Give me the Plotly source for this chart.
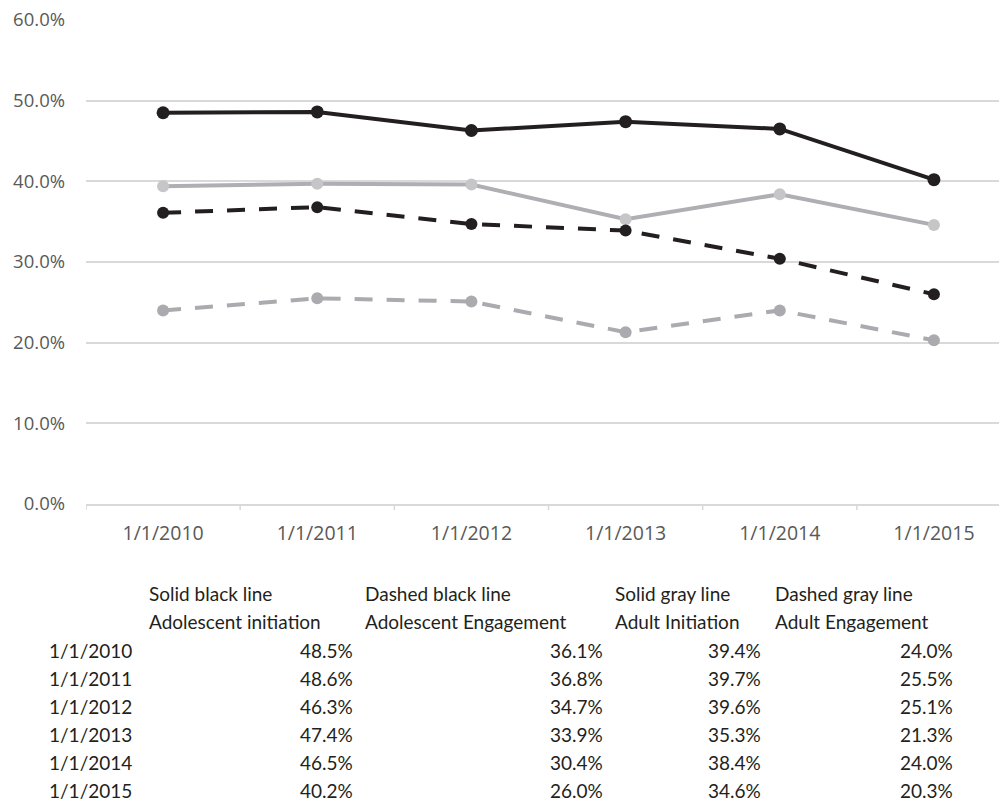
import plotly.graph_objects as go

categories = ["1/1/2010", "1/1/2011", "1/1/2012", "1/1/2013", "1/1/2014", "1/1/2015"]
adolescent_initiation = [0.485, 0.486, 0.463, 0.474, 0.465, 0.402]
adolescent_engagement = [0.361, 0.368, 0.347, 0.339, 0.304, 0.260]
adult_initiation = [0.394, 0.397, 0.396, 0.353, 0.384, 0.346]
adult_engagement = [0.240, 0.255, 0.251, 0.213, 0.240, 0.203]

header_line1 = ["Solid black line", "Dashed black line", "Solid gray line", "Dashed gray line"]
header_line2 = ["Adolescent initiation", "Adolescent Engagement", "Adult Initiation", "Adult Engagement"]
y_ticks = [0.0, 0.1, 0.2, 0.3, 0.4, 0.5, 0.6]

W, H = 999, 802
L, R_EDGE, T, B_EDGE = 86, 999, 20, 504  # plot area in pixels

BLACK = "#231F20"
GRAY_LINE = "#AFAFB3"
GRAY_MARK = "#C6C6C8"
GRAY_DASH = "#ABABAF"

fig = go.Figure()
x_idx = list(range(len(categories)))

series = [
    (adult_engagement, GRAY_DASH, GRAY_DASH, "18px,14px", 12),
    (adult_initiation, GRAY_LINE, GRAY_MARK, "solid", 12),
    (adolescent_engagement, BLACK, BLACK, "18px,14px", 12),
    (adolescent_initiation, BLACK, BLACK, "solid", 13),
]
names = ["Adult Engagement", "Adult Initiation", "Adolescent Engagement", "Adolescent initiation"]
for (vals, lc, mc, dash, ms), nm in zip(series, names):
    fig.add_trace(go.Scatter(
        x=x_idx, y=vals, mode="lines+markers", name=nm,
        line=dict(color=lc, width=4, dash=dash),
        marker=dict(color=mc, size=ms),
        showlegend=False, cliponaxis=False,
    ))

xr_max = -0.5 + (R_EDGE - L) / 154.17

fig.update_layout(
    width=W, height=H,
    margin=dict(l=L, r=W - R_EDGE, t=T, b=H - B_EDGE),
    plot_bgcolor="white", paper_bgcolor="white",
    font=dict(family="Open Sans", size=18, color="#595959"),
    xaxis=dict(
        range=[-0.5, xr_max], tickmode="array", tickvals=x_idx, ticktext=categories,
        showgrid=False, zeroline=False, showline=True, linecolor="#D9D9D9", linewidth=1.5,
        ticks="", ticklabelstandoff=11, tickfont=dict(size=19.5),
    ),
    yaxis=dict(
        range=[0, 0.6], tickmode="array", tickvals=y_ticks,
        ticktext=[f"{v*100:.1f}%" for v in y_ticks],
        showgrid=True, gridcolor="#D9D9D9", gridwidth=1.5, zeroline=False,
        showline=False, ticks="", ticklabelstandoff=20, tickfont=dict(size=18.5),
    ),
)

# x-axis boundary tick marks
for k in range(len(categories) + 1):
    xb = k - 0.5
    fig.add_shape(type="line", xref="x", yref="paper", x0=xb, x1=xb,
                  y0=0, y1=-6 / (B_EDGE - T), line=dict(color="#D9D9D9", width=1.5))

def px_x(p):
    return (p - L) / (R_EDGE - L)

def px_y(p):
    return (B_EDGE - p) / (B_EDGE - T)

TFONT = dict(family="Lato", size=19, color="#231F20")
header_left = [147, 363, 613, 773]
value_right = [355, 605, 763, 955]
header_y = [593, 621]
row_y = [650, 678, 706, 734, 762, 790]
columns = [adolescent_initiation, adolescent_engagement, adult_initiation, adult_engagement]

for j in range(4):
    for line_txt, yy in zip([header_line1[j], header_line2[j]], header_y):
        fig.add_annotation(text=line_txt, xref="paper", yref="paper",
                           x=px_x(header_left[j]), y=px_y(yy), xanchor="left", yanchor="middle",
                           showarrow=False, font=TFONT)
for i, cat in enumerate(categories):
    fig.add_annotation(text=cat, xref="paper", yref="paper",
                       x=px_x(47), y=px_y(row_y[i]), xanchor="left", yanchor="middle",
                       showarrow=False, font=TFONT)
    for j in range(4):
        fig.add_annotation(text=f"{columns[j][i]*100:.1f}%", xref="paper", yref="paper",
                           x=px_x(value_right[j]), y=px_y(row_y[i]), xanchor="right", yanchor="middle",
                           showarrow=False, font=TFONT)

fig.write_html("out.html")
